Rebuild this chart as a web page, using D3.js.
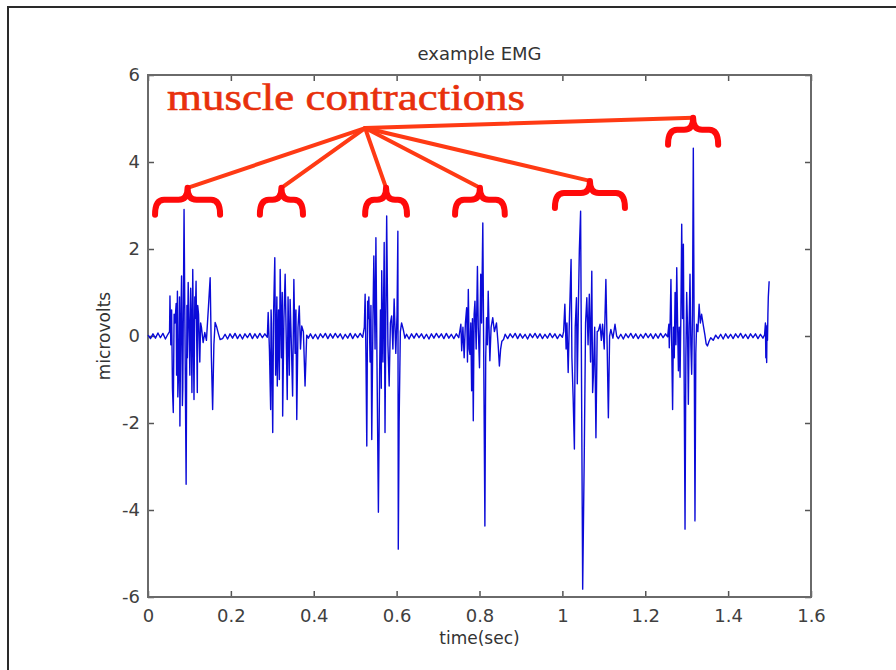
<!DOCTYPE html>
<html>
<head>
<meta charset="utf-8">
<script src="https://cdn.jsdelivr.net/npm/d3@7"></script>
<style>
  body { margin: 0; background: #ffffff; }
  svg text { font-family: "DejaVu Sans", sans-serif; }
</style>
</head>
<body>
<div id="containerEmg"></div>
<script>
// EMG trace as [time (sec), microvolts]
var rest1 = [[0,0.02],[0.006,-0.06],[0.012,0.05],[0.018,-0.05],[0.024,0.07],[0.030,-0.04],[0.036,0.06],[0.042,-0.07],[0.048,0.04]];
var burst1 = [[0.052,0.10],[0.053,0.92],[0.055,-0.2],[0.057,0.6],[0.059,-1.2],[0.061,-1.76],[0.063,0.5],[0.065,0.3],[0.068,0.75],
    [0.069,-0.9],[0.071,1.03],[0.072,-1.4],[0.074,-0.8],[0.076,0.9],[0.077,-2.07],[0.079,0.2],[0.081,1.38],[0.083,-1.6],[0.084,-1.2],
    [0.087,2.91],[0.092,-3.41],[0.094,0.7],[0.095,-0.5],[0.097,1.23],[0.099,0.3],[0.101,-0.9],[0.103,1.1],[0.104,0.6],[0.106,-1.3],
    [0.108,1.53],[0.111,-1.46],[0.113,0.9],[0.114,0.4],[0.116,1.26],[0.119,-1.30],[0.120,0.7],[0.122,0.5],[0.125,-0.6],[0.127,0.3],
    [0.129,0.2],[0.133,-0.15],[0.137,0.08],[0.141,-0.1],[0.146,0.69],[0.150,1.34],[0.153,-0.5],[0.156,-1.69],[0.159,-0.2],[0.162,0.31],
    [0.166,0.2],[0.170,0.05],[0.174,-0.08]];
var rest2 = [[0.180,-0.06],[0.186,0.04],[0.192,-0.07],[0.198,0.05],[0.204,-0.05],[0.210,0.06],[0.216,-0.06],[0.222,0.04],[0.228,-0.07],
    [0.234,0.05],[0.240,-0.04],[0.246,0.06],[0.252,-0.06],[0.258,0.05],[0.264,-0.05],[0.270,0.06],[0.276,-0.04],[0.282,0.05],[0.288,-0.03]];
var burst2 = [[0.290,0.54],[0.293,-0.3],[0.296,-1.69],[0.297,0.6],[0.298,0.3],[0.301,-2.22],[0.303,0.5],[0.306,1.80],[0.308,-0.9],
    [0.309,-0.4],[0.311,0.9],[0.312,-1.15],[0.315,0.6],[0.317,-1.0],[0.319,1.53],[0.322,-0.5],[0.324,1.0],[0.325,-1.84],[0.328,0.4],
    [0.331,1.42],[0.334,-0.3],[0.336,-1.46],[0.338,0.9],[0.339,0.3],[0.341,-0.9],[0.343,0.84],[0.346,-0.2],[0.349,-1.38],[0.352,1.30],
    [0.355,-0.4],[0.357,0.6],[0.359,-1.92],[0.362,0.2],[0.365,0.69],[0.368,-0.3],[0.371,0.23],[0.375,0.1],[0.379,-1.15],[0.383,0.02],
    [0.387,-0.05]];
var rest3 = [[0.392,0.05],[0.398,-0.06],[0.404,0.04],[0.410,-0.07],[0.416,0.05],[0.422,-0.04],[0.428,0.06],[0.434,-0.06],[0.440,0.05],
    [0.446,-0.05],[0.452,0.06],[0.458,-0.04],[0.464,0.05],[0.470,-0.07],[0.476,0.04],[0.482,-0.05],[0.488,0.06],[0.494,-0.06],
    [0.500,0.05],[0.506,-0.04],[0.512,0.06],[0.518,-0.03]];
var burst3 = [[0.522,0.2],[0.524,0.96],[0.526,-0.5],[0.528,-2.53],[0.530,0.8],[0.531,0.4],[0.533,0.9],[0.536,-0.6],[0.538,0.7],
    [0.540,-2.38],[0.543,0.5],[0.545,1.84],[0.548,-0.3],[0.550,2.26],[0.553,-1.0],[0.556,-4.05],[0.559,-0.8],[0.561,0.6],[0.563,-1.2],
    [0.564,1.50],[0.567,-0.6],[0.570,2.15],[0.572,-2.22],[0.574,0.4],[0.576,2.76],[0.579,-0.2],[0.582,-1.15],[0.585,0.3],[0.588,0.46],
    [0.591,-0.3],[0.594,0.85],[0.597,-0.1],[0.598,-0.4],[0.601,0.5],[0.603,2.41],[0.604,-4.9],[0.606,-2.0],[0.609,0.1],[0.612,0.30],
    [0.616,0.15],[0.620,-0.05]];
var rest4 = [[0.624,0.04],[0.630,-0.07],[0.636,0.05],[0.642,-0.05],[0.648,0.06],[0.654,-0.04],[0.660,0.05],[0.666,-0.06],[0.672,0.04],
    [0.678,-0.07],[0.684,0.05],[0.690,-0.05],[0.696,0.06],[0.702,-0.04],[0.708,0.05],[0.714,-0.06],[0.720,0.06],[0.726,-0.05],
    [0.732,0.04],[0.738,-0.06],[0.744,0.05],[0.750,-0.04]];
var burst4 = [[0.755,0.27],[0.757,-0.34],[0.760,0.2],[0.763,-0.5],[0.766,0.3],[0.769,0.65],[0.771,-0.6],[0.773,1.07],[0.775,-0.3],
    [0.777,-0.42],[0.779,0.3],[0.781,-1.26],[0.783,0.4],[0.785,-1.95],[0.787,0.5],[0.789,0.80],[0.792,-0.3],[0.795,1.60],[0.797,0.2],
    [0.800,-0.73],[0.803,1.42],[0.805,0.3],[0.808,2.60],[0.813,-4.37],[0.815,-0.5],[0.817,0.42],[0.819,-0.2],[0.821,1.03],[0.823,0.2],
    [0.825,-0.57],[0.828,0.2],[0.832,0.42],[0.836,0.1],[0.841,0.30],[0.845,-0.2],[0.848,-0.69],[0.851,-0.3],[0.854,-0.12],[0.858,-0.08]];
var rest5 = [[0.862,0.04],[0.868,-0.06],[0.874,0.05],[0.880,-0.04],[0.886,0.06],[0.892,-0.06],[0.898,0.05],[0.904,-0.05],[0.910,0.04],
    [0.916,-0.07],[0.922,0.05],[0.928,-0.04],[0.934,0.06],[0.940,-0.05],[0.946,0.05],[0.952,-0.06],[0.958,0.04],[0.964,-0.05],
    [0.970,0.06],[0.976,-0.04],[0.982,0.05],[0.988,-0.06],[0.994,0.04],[1.000,-0.03]];
var burst5 = [[1.003,0.1],[1.006,0.73],[1.009,-0.3],[1.011,0.3],[1.014,-0.84],[1.017,0.4],[1.021,1.76],[1.023,-0.5],[1.026,-1.42],
    [1.029,-2.60],[1.031,0.2],[1.034,0.88],[1.036,-1.1],[1.037,-0.4],[1.039,0.9],[1.041,1.99],[1.044,2.87],[1.049,-5.82],[1.053,-2.57],
    [1.056,0.3],[1.059,0.88],[1.062,-0.2],[1.065,0.96],[1.068,-0.6],[1.071,1.49],[1.073,-1.3],[1.075,-0.88],[1.078,0.2],[1.081,-2.34],
    [1.084,0.1],[1.087,0.12],[1.091,0.27],[1.094,-0.1],[1.097,0.27],[1.101,-0.3],[1.105,1.30],[1.108,-0.2],[1.111,-1.88],[1.114,0.0],
    [1.117,0.15],[1.122,-0.05],[1.127,0.27],[1.131,0.0]];
var rest6 = [[1.135,-0.06],[1.141,0.04],[1.147,-0.07],[1.153,0.05],[1.159,-0.04],[1.165,0.06],[1.171,-0.05],[1.177,0.05],[1.183,-0.06],
    [1.189,0.04],[1.195,-0.05],[1.201,0.06],[1.207,-0.04],[1.213,0.05],[1.219,-0.06],[1.225,0.05],[1.231,-0.05],[1.237,0.06],
    [1.243,-0.04],[1.249,0.05],[1.254,-0.02]];
var burst6 = [[1.257,0.27],[1.258,-0.27],[1.260,0.3],[1.262,1.30],[1.264,-0.3],[1.266,-1.69],[1.268,0.2],[1.270,-0.5],[1.272,1.0],
    [1.274,-0.2],[1.276,1.57],[1.278,0.3],[1.280,-0.80],[1.282,0.2],[1.284,-0.95],[1.286,0.5],[1.288,2.57],[1.290,0.4],[1.292,2.11],
    [1.296,-4.44],[1.298,-0.5],[1.300,1.0],[1.302,0.2],[1.304,-1.57],[1.306,0.3],[1.308,1.42],[1.310,-0.2],[1.312,-0.88],[1.314,0.5],
    [1.316,4.32],[1.320,-4.25],[1.322,-0.4],[1.324,0.27],[1.327,0.1],[1.330,0.73],[1.333,0.3],[1.336,0.50],[1.340,0.25],[1.344,0.02],
    [1.347,-0.18],[1.350,-0.23],[1.354,-0.12]];
var rest7 = [[1.358,-0.04],[1.364,-0.10],[1.370,0.02],[1.376,-0.06],[1.382,0.04],[1.388,-0.07],[1.394,0.05],[1.400,-0.05],[1.406,0.04],
    [1.412,-0.06],[1.418,0.05],[1.424,-0.04],[1.430,0.06],[1.436,-0.05],[1.442,0.04],[1.448,-0.06],[1.454,0.05],[1.460,-0.04],
    [1.466,0.05],[1.472,-0.06],[1.478,0.04],[1.484,-0.05],[1.488,0.03]];
var tail = [[1.490,0.3],[1.491,-0.5],[1.492,0.2],[1.493,-0.61],[1.494,0.25],[1.495,-0.1],[1.496,0.5],[1.497,0.9],[1.499,1.26]];

// axis ticks
var xTicks = [0, 0.2, 0.4, 0.6, 0.8, 1, 1.2, 1.4, 1.6];
var yTicks = [-6, -4, -2, 0, 2, 4, 6];

// annotation: braces as [start sec, end sec, level], the hub and the label position
var braces = [[0.017, 0.174, 3.13], [0.270, 0.374, 3.13], [0.524, 0.625, 3.13],
    [0.741, 0.861, 3.13], [0.982, 1.151, 3.29], [1.255, 1.376, 4.74]];
var hub = [0.524, 4.78];
var labelAt = [0.046, 5.2];

var svgEmg;

// function to draw the emg chart
function drawEmgChart() {

    var outerWidth = 896;
    var outerHeight = 670;
    var margin = { left: 148, top: 75, right: 85, bottom: 73 };
    var innerWidth = outerWidth - margin.left - margin.right;
    var innerHeight = outerHeight - margin.top - margin.bottom;

    var emg = [].concat(rest1, burst1, rest2, burst2, rest3, burst3, rest4, burst4,
        rest5, burst5, rest6, burst6, rest7, tail);

    svgEmg = d3.select("#containerEmg")
        .append("svg")
        .attr("width", outerWidth)
        .attr("height", outerHeight);

    // slide frame
    svgEmg.append("path")
        .attr("d", "M8," + outerHeight + "V7H" + outerWidth)
        .attr("fill", "none")
        .attr("stroke", "#2a2a2a")
        .attr("stroke-width", 2);

    var g = svgEmg.append("g")
        .attr("transform", "translate(" + margin.left + "," + margin.top + ")");

    var x = d3.scaleLinear().domain([0, 1.6]).range([0, innerWidth]);
    var y = d3.scaleLinear().domain([-6, 6]).range([innerHeight, 0]);

    var fmt = function (d) { return String(d); };

    // axes, matlab style ticks pointing inwards
    var xAxis = g.append("g")
        .attr("transform", "translate(0," + innerHeight + ")")
        .call(d3.axisBottom(x).tickValues(xTicks).tickSize(-6).tickPadding(12).tickFormat(fmt));
    var xTop = g.append("g")
        .call(d3.axisTop(x).tickValues(xTicks).tickSize(-6).tickFormat(""));
    var yAxis = g.append("g")
        .call(d3.axisLeft(y).tickValues(yTicks).tickSize(-6).tickPadding(8).tickFormat(fmt));
    var yRight = g.append("g")
        .attr("transform", "translate(" + innerWidth + ",0)")
        .call(d3.axisRight(y).tickValues(yTicks).tickSize(-6).tickFormat(""));

    [xAxis, xTop, yAxis, yRight].forEach(function (a) {
        a.select(".domain").remove();
        a.selectAll("line").attr("stroke", "#555555").attr("stroke-width", 1.5);
        a.selectAll("text")
            .attr("fill", "#404040")
            .style("font-size", "18px")
            .style("font-family", "'DejaVu Sans', sans-serif");
    });

    // box round the plot
    g.append("rect")
        .attr("width", innerWidth)
        .attr("height", innerHeight)
        .attr("fill", "none")
        .attr("stroke", "#6a6a6a")
        .attr("stroke-width", 2);

    // the signal
    var line = d3.line()
        .x(function (d) { return x(d[0]); })
        .y(function (d) { return y(d[1]); });

    g.append("path")
        .datum(emg)
        .attr("d", line)
        .attr("fill", "none")
        .attr("stroke", "#0b0bd8")
        .attr("stroke-width", 1.4)
        .attr("stroke-linejoin", "round");

    // titles
    svgEmg.append("text")
        .attr("x", margin.left + innerWidth / 2)
        .attr("y", 60)
        .attr("text-anchor", "middle")
        .attr("fill", "#333333")
        .style("font-size", "18px")
        .text("example EMG");

    svgEmg.append("text")
        .attr("x", margin.left + innerWidth / 2)
        .attr("y", 644)
        .attr("text-anchor", "middle")
        .attr("fill", "#333333")
        .style("font-size", "17px")
        .text("time(sec)");

    svgEmg.append("text")
        .attr("transform", "translate(110," + (margin.top + innerHeight / 2) + ") rotate(-90)")
        .attr("text-anchor", "middle")
        .attr("fill", "#333333")
        .style("font-size", "17px")
        .text("microvolts");

    // annotation: lines from the hub to every brace
    var armDrop = 15, tipRise = 12, bend = 9;
    var tips = braces.map(function (b) {
        return [(x(b[0]) + x(b[1])) / 2, y(b[2]) - tipRise];
    });

    g.selectAll(".pointer")
        .data(tips)
        .enter()
        .append("line")
        .attr("class", "pointer")
        .attr("x1", x(hub[0]))
        .attr("y1", y(hub[1]))
        .attr("x2", function (d) { return d[0]; })
        .attr("y2", function (d) { return d[1]; })
        .attr("stroke", "#ff3a14")
        .attr("stroke-width", 4)
        .attr("stroke-linecap", "round");

    g.selectAll(".brace")
        .data(braces)
        .enter()
        .append("path")
        .attr("class", "brace")
        .attr("d", function (b) {
            var x0 = x(b[0]), x1 = x(b[1]), xm = (x0 + x1) / 2, yb = y(b[2]);
            var p = d3.path();
            p.moveTo(x0, yb + armDrop);
            p.quadraticCurveTo(x0, yb, x0 + bend, yb);
            p.lineTo(xm - bend, yb);
            p.quadraticCurveTo(xm, yb, xm, yb - tipRise);
            p.quadraticCurveTo(xm, yb, xm + bend, yb);
            p.lineTo(x1 - bend, yb);
            p.quadraticCurveTo(x1, yb, x1, yb + armDrop);
            return p.toString();
        })
        .attr("fill", "none")
        .attr("stroke", "#ff0a0a")
        .attr("stroke-width", 6)
        .attr("stroke-linecap", "round")
        .attr("stroke-linejoin", "round");

    g.append("text")
        .attr("x", x(labelAt[0]))
        .attr("y", y(labelAt[1]))
        .attr("textLength", 358)
        .attr("lengthAdjust", "spacingAndGlyphs")
        .attr("fill", "#e8300c")
        .attr("stroke", "#e8300c")
        .attr("stroke-width", 0.6)
        .style("font-family", "'Liberation Serif', 'Times New Roman', serif")
        .style("font-size", "38px")
        .text("muscle contractions");
};

drawEmgChart();
</script>
</body>
</html>
